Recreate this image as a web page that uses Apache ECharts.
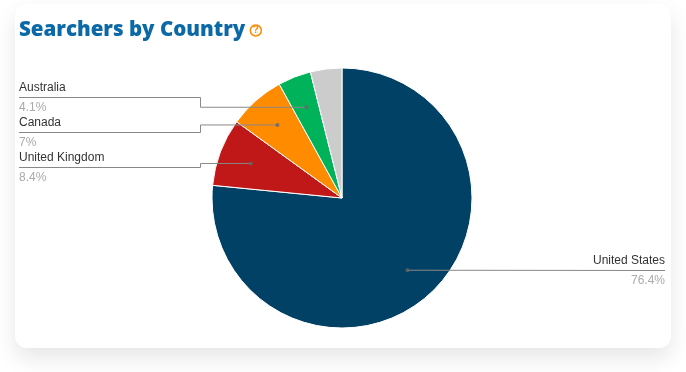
<!DOCTYPE html>
<html><head><meta charset="utf-8">
<style>
html,body{margin:0;padding:0;background:#fff;width:686px;height:372px;overflow:hidden}
#card{position:absolute;left:15px;top:4px;width:656px;height:344px;background:#fff;border-radius:12px;box-shadow:0 10px 22px rgba(0,0,0,.10)}
#c{position:absolute;left:0;top:0;width:686px;height:372px}
</style>
<script src="https://cdn.jsdelivr.net/npm/echarts@6/dist/echarts.min.js"></script>
</head><body><div id="card"></div><div id="c"></div>
<script>
const categories = ['United States','United Kingdom','Canada','Australia','Other'];
const values = [76.4,8.4,7,4.1,3.9];
const valueLabels = ['76.4%','8.4%','7%','4.1%',''];
const colors = ['#004165','#c01818','#ff8c00','#00b35a','#cccccc'];
const cx=342, cy=198, R=130;
const total = values.reduce((a,b)=>a+b,0);
function mid(i){let s=0;for(let k=0;k<i;k++)s+=values[k];return s+values[i]/2;}
function dot(i){const a=mid(i)/total*2*Math.PI;return [cx+0.75*R*Math.sin(a),cy-0.75*R*Math.cos(a)];}
const layout = [
 {lineY:270.5,endX:665,align:'right'},
 {lineY:167.5,endX:19,elbowX:200.5,align:'left'},
 {lineY:132.5,endX:19,elbowX:200.5,align:'left'},
 {lineY:97.5,endX:19,elbowX:200.5,align:'left'}
];
const chart = echarts.init(document.getElementById('c'),null,{renderer:'canvas'});
chart.setOption({
 animation:false,
 title:{left:19,top:20,padding:0,text:'{t|Searchers by Country} {q|?}',textStyle:{rich:{
   t:{fontFamily:'Open Sans',fontWeight:800,fontSize:20.5,color:'#0a69a6'},
   q:{fontFamily:'Liberation Sans',fontWeight:'bold',fontSize:10,color:'#ff8c00',borderColor:'#ff8c00',borderWidth:1.5,borderRadius:6,width:11,height:11,align:'center',verticalAlign:'middle',lineHeight:11}
 }}},
 polar:{center:[cx,cy],radius:R},
 angleAxis:{type:'value',min:0,max:total,startAngle:90,show:false},
 radiusAxis:{type:'value',min:0,max:1,show:false},
 series:[
 {type:'pie',center:[cx,cy],radius:[0,R],startAngle:90,clockwise:true,z:2,
  itemStyle:{borderColor:'#fff',borderWidth:1},
  label:{show:true,position:'outside',formatter:p=>'{n|'+p.name+'}\n{v|'+valueLabels[p.dataIndex]+'}',
    rich:{n:{fontFamily:'Liberation Sans',fontSize:12,color:'#333',lineHeight:19},v:{fontFamily:'Liberation Sans',fontSize:12,color:'#aaa',lineHeight:21}}},
  labelLine:{show:false},
  labelLayout:function(p){
    const l=layout[p.dataIndex]; if(!l) return {};
    return {x:l.endX,y:Math.floor(l.lineY)+1,align:l.align,verticalAlign:'middle'};
  },
  data:categories.map((n,i)=>({name:n,value:values[i],itemStyle:{color:colors[i]},label:{show:i<4}}))
 },
 {type:'custom',coordinateSystem:'none',z:4,silent:true,
  data:layout.map((l,i)=>i),
  renderItem:function(params){
    const i=params.dataIndex,l=layout[i],d=dot(i);
    const pts=l.elbowX?[d,[l.elbowX,d[1]],[l.elbowX,l.lineY],[l.endX,l.lineY]]:[d,[l.endX,l.lineY]];
    return {type:'polyline',shape:{points:pts},style:{fill:null,stroke:'#888',lineWidth:1}};
  }},
 {type:'scatter',coordinateSystem:'polar',z:5,silent:true,symbolSize:4,itemStyle:{color:'#666'},
  data:values.slice(0,4).map((v,i)=>[0.75,mid(i)])}
 ]
});
</script></body></html>
